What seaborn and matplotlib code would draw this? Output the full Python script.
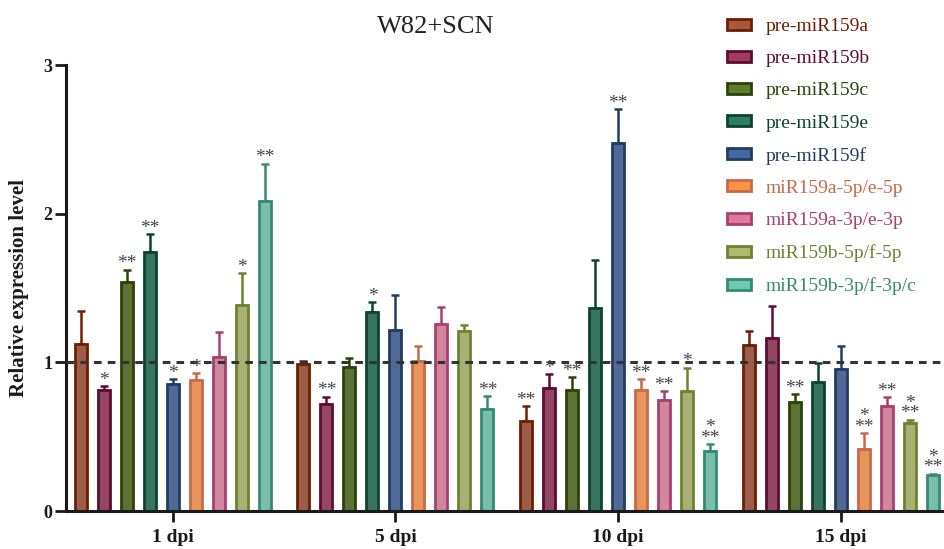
import numpy as np
import pandas as pd
import matplotlib
matplotlib.use("Agg")
import matplotlib.pyplot as plt
import seaborn as sns
from matplotlib.patches import Patch

groups = ["1 dpi", "5 dpi", "10 dpi", "15 dpi"]
series = ["pre-miR159a", "pre-miR159b", "pre-miR159c", "pre-miR159e", "pre-miR159f",
          "miR159a-5p/e-5p", "miR159a-3p/e-3p", "miR159b-5p/f-5p", "miR159b-3p/f-3p/c"]

# mean values per series (order: 1, 5, 10, 15 dpi)
pre_a = [1.125, 0.99, 0.606, 1.114]
pre_b = [0.812, 0.72, 0.83, 1.166]
pre_c = [1.539, 0.968, 0.812, 0.73]
pre_e = [1.740, 1.337, 1.367, 0.866]
pre_f = [0.857, 1.22, 2.472, 0.958]
a5p = [0.879, 1.01, 0.817, 0.416]
a3p = [1.036, 1.26, 0.75, 0.709]
b5p = [1.389, 1.208, 0.805, 0.595]
b3p = [2.087, 0.689, 0.405, 0.242]

# upper error bars
err_pre_a = [0.22, 0.02, 0.10, 0.10]
err_pre_b = [0.03, 0.05, 0.09, 0.21]
err_pre_c = [0.085, 0.06, 0.09, 0.055]
err_pre_e = [0.12, 0.07, 0.32, 0.13]
err_pre_f = [0.033, 0.23, 0.23, 0.155]
err_a5p = [0.05, 0.10, 0.07, 0.11]
err_a3p = [0.17, 0.11, 0.055, 0.055]
err_b5p = [0.21, 0.045, 0.16, 0.02]
err_b3p = [0.25, 0.085, 0.045, 0.01]

# significance marks
sig_pre_a = ["", "", "**", ""]
sig_pre_b = ["*", "**", "*", ""]
sig_pre_c = ["**", "", "**", "**"]
sig_pre_e = ["**", "*", "", ""]
sig_pre_f = ["*", "", "**", ""]
sig_a5p = ["*", "", "**", "*\n**"]
sig_a3p = ["", "", "**", "**"]
sig_b5p = ["*", "", "*", "*\n**"]
sig_b3p = ["**", "**", "*\n**", "*\n**"]

fills = ["#A8583C", "#A03A5E", "#627A2E", "#2E7E66", "#4468A0",
         "#FF9044", "#DC7A98", "#B0B86C", "#6CCAB0"]
edges = ["#701E00", "#5E0C34", "#2C4408", "#0C4430", "#243C64",
         "#C86A48", "#A84070", "#6A8430", "#348A70"]

values = [pre_a, pre_b, pre_c, pre_e, pre_f, a5p, a3p, b5p, b3p]
errors = [err_pre_a, err_pre_b, err_pre_c, err_pre_e, err_pre_f, err_a5p, err_a3p, err_b5p, err_b3p]
sigs = [sig_pre_a, sig_pre_b, sig_pre_c, sig_pre_e, sig_pre_f, sig_a5p, sig_a3p, sig_b5p, sig_b3p]

rows = []
for s, vals in zip(series, values):
    for g, v in zip(groups, vals):
        rows.append({"group": g, "series": s, "value": v})
df = pd.DataFrame(rows)

sns.set_style("white")
plt.rcParams["font.family"] = ["Liberation Serif", "DejaVu Serif"]

fig = plt.figure(figsize=(9.44, 5.49), dpi=100)
ax = fig.add_axes([0.0699, 0.0692, 0.9291, 0.8124])

sns.barplot(data=df, x="group", y="value", hue="series", order=groups,
            hue_order=series, palette=dict(zip(series, fills)),
            errorbar=None, width=0.93, gap=0.48, legend=False, ax=ax, zorder=2)

bar_containers = list(ax.containers)
for i, cont in enumerate(bar_containers):
    for j, p in enumerate(cont.patches):
        p.set_edgecolor(edges[i])
        p.set_linewidth(2.0)
        xc = p.get_x() + p.get_width() / 2
        top = p.get_height()
        e = errors[i][j]
        ax.errorbar([xc], [top], yerr=[[0], [e]], fmt="none", ecolor=edges[i],
                    elinewidth=1.8, capsize=3.2, capthick=1.8, zorder=1)
        if sigs[i][j]:
            ax.annotate(sigs[i][j], (xc, top + e), xytext=(0, 0.8),
                        textcoords="offset points", ha="center", va="baseline",
                        fontsize=14, color="#444444", linespacing=0.5,
                        fontfamily="Liberation Serif", zorder=4)

ax.axhline(1, color="#333333", lw=2.2, dashes=(2.5, 2.0), zorder=3)

ax.set_xlim(-0.48, 3.46)
ax.set_ylim(0, 3)
ax.set_yticks([0, 1, 2, 3])
ax.set_yticklabels(["0", "1", "2", "3"])
ax.set_xlabel("")
ax.set_ylabel("Relative expression level", fontsize=15, fontweight="bold", labelpad=10)
for lab in ax.get_xticklabels() + ax.get_yticklabels():
    lab.set_fontweight("bold")
ax.tick_params(axis="both", which="both", direction="out", length=8, width=2,
               colors="#1a1a1a", labelcolor="#1a1a1a")
ax.tick_params(axis="y", labelsize=13, pad=2)
ax.tick_params(axis="x", labelsize=14, pad=5)
ax.yaxis.set_ticks_position("left")
ax.xaxis.set_ticks_position("bottom")
for side in ["top", "right"]:
    ax.spines[side].set_visible(False)
for side in ["left", "bottom"]:
    ax.spines[side].set_linewidth(2.2)
    ax.spines[side].set_color("#1a1a1a")
ax.yaxis.label.set_color("#1a1a1a")

fig.text(0.462, 0.950, "W82+SCN", ha="center", va="center", fontsize=19, color="#222222")

handles = [Patch(facecolor=f, edgecolor=e, linewidth=2.0) for f, e in zip(fills, edges)]
leg = fig.legend(handles, series, loc="upper left", bbox_to_anchor=(0.770, 0.967),
                 frameon=False, fontsize=14, handlelength=1.25, handleheight=0.5,
                 handletextpad=0.75, labelspacing=0.78, borderpad=0, borderaxespad=0)
for t, e in zip(leg.get_texts(), edges):
    t.set_color(e)

fig.savefig("out.png", dpi=100)
